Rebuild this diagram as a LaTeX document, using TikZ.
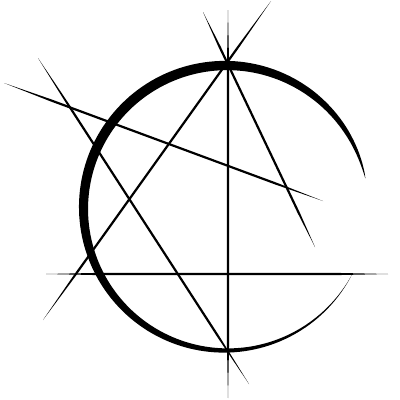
\documentclass[tikz,border=0pt]{standalone}
\usetikzlibrary{calc}
\newcommand\tline[3][1]{%
  \fill[black] (#2)
    -- ($(#2)!0.15!(#3)!#1pt!90:(#3)$)
    -- ($(#2)!0.85!(#3)!#1pt!-90:(#2)$)
    -- (#3)
    -- ($(#2)!0.85!(#3)!#1pt!90:(#2)$)
    -- ($(#2)!0.15!(#3)!#1pt!-90:(#3)$)
    -- cycle;}
\begin{document}
\begin{tikzpicture}[x=1pt,y=-1pt,
  declare function={wd(\t)=10*sin(180*pow(((\t-12)/320)+0.0001,0.695));}]
\useasboundingbox (0,0) rectangle (400,400);
% brush circle
\fill[black] plot[domain=12:332,samples=160,variable=\t]
   ({226+(142.5+wd(\t)/2)*cos(\t)},{208-(142.5+wd(\t)/2)*sin(\t)})
 -- plot[domain=332:12,samples=160,variable=\t]
   ({226+(142.5-wd(\t)/2)*cos(\t)},{208-(142.5-wd(\t)/2)*sin(\t)})
 -- cycle;
% end points
\coordinate (vt) at (228,10);
\coordinate (vb) at (228,398);
\coordinate (hl) at (46,274);
\coordinate (hr) at (388,274);
\coordinate (al) at (4,83);
\coordinate (ar) at (323,201);
\coordinate (bl) at (38,58);
\coordinate (br) at (249,384);
\coordinate (cl) at (43,320);
\coordinate (cr) at (271,1);
\coordinate (dl) at (203,12);
\coordinate (dr) at (315,247);
\tline[1.15]{vt}{vb}
\tline[1.1]{hl}{hr}
\tline[1.1]{al}{ar}
\tline[1.1]{bl}{br}
\tline[1.1]{cl}{cr}
\tline[1.1]{dl}{dr}
\end{tikzpicture}
\end{document}
